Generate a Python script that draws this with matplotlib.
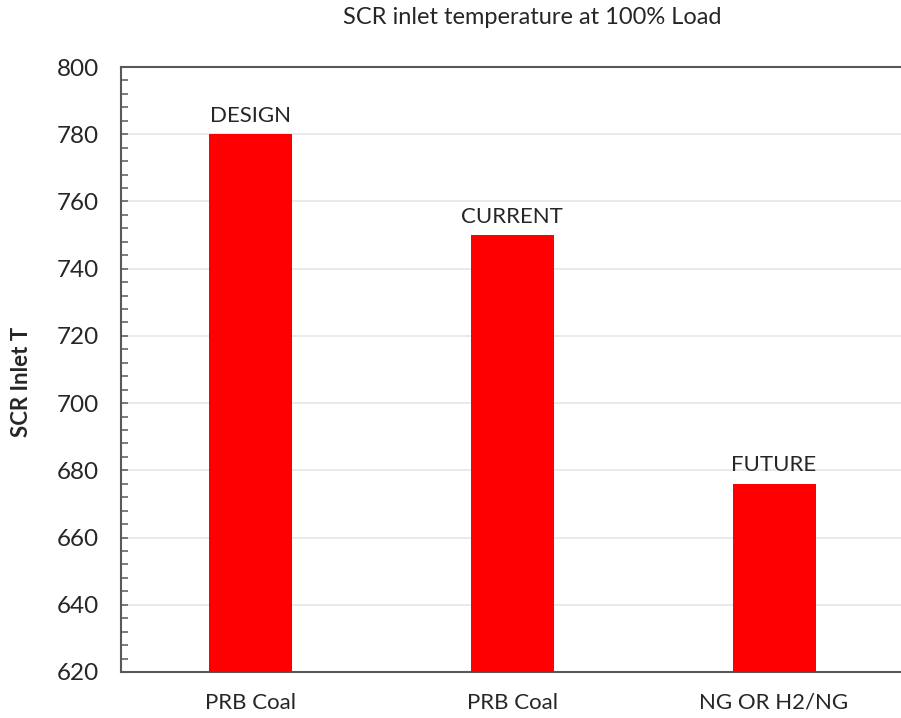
import matplotlib
matplotlib.use("Agg")
import matplotlib.pyplot as plt
from matplotlib.ticker import MultipleLocator

categories = ["PRB Coal", "PRB Coal", "NG OR H2/NG"]
cases = ["DESIGN", "CURRENT", "FUTURE"]
inlet_temp = [780, 750, 676]

BAR_RED = "#FF0000"
TEXT = "#262626"
SPINE = "#595959"
GRID = "#E6E6E6"

plt.rcParams["font.family"] = ["Lato", "DejaVu Sans"]

fig = plt.figure(figsize=(9.01, 7.18), dpi=100, facecolor="white")
ax = fig.add_axes([121 / 901, 46 / 718, 1 - 121 / 901, 605 / 718])

x = list(range(len(categories)))
ax.bar(x, inlet_temp, width=0.317, color=BAR_RED, edgecolor="none", zorder=3)
for xi, val, lab in zip(x, inlet_temp, cases):
    ax.annotate(lab, (xi, val), xytext=(0, 6), textcoords="offset points",
                ha="center", va="bottom", fontsize=16, color=TEXT)

ax.set_ylim(620, 800)
ax.set_xlim(-0.494, 2.485)
ax.yaxis.set_major_locator(MultipleLocator(20))
ax.yaxis.set_minor_locator(MultipleLocator(4))
ax.grid(axis="y", which="major", color=GRID, linewidth=1.2, zorder=0)
ax.set_axisbelow(True)

ax.set_xticks(x)
ax.set_xticklabels(categories)
ax.tick_params(axis="x", length=0, pad=15, labelsize=16, labelcolor=TEXT)
ax.tick_params(axis="y", which="both", direction="in", length=5, width=1.1,
               color=SPINE, pad=16, labelsize=17.5, labelcolor=TEXT)

for side in ("left", "top", "bottom"):
    ax.spines[side].set_color(SPINE)
    ax.spines[side].set_linewidth(1.5)
ax.spines["right"].set_visible(False)

ax.set_ylabel("SCR Inlet T", fontsize=16, fontweight="bold", color=TEXT)
ax.yaxis.set_label_coords(-0.114, 0.48)
fig.text(532 / 901, 1 - 18 / 718, "SCR inlet temperature at 100% Load",
         ha="center", va="center", fontsize=17, color=TEXT)

fig.savefig("out.png", dpi=100, facecolor="white")
